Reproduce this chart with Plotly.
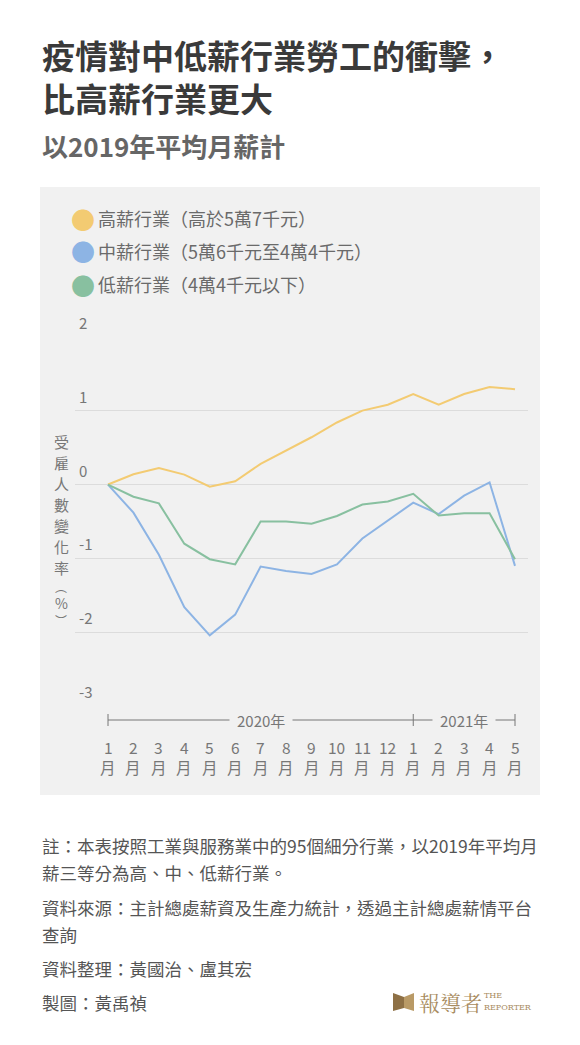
import plotly.graph_objects as go

# ---- data ----
month_nums = ["1", "2", "3", "4", "5", "6", "7", "8", "9", "10", "11", "12", "1", "2", "3", "4", "5"]
month_unit = "月"
high = [0.0, 0.14, 0.225, 0.135, -0.03, 0.045, 0.28, 0.46, 0.64, 0.84, 1.0, 1.08,
        1.225, 1.08, 1.225, 1.32, 1.29]
mid = [0.0, -0.38, -0.95, -1.66, -2.04, -1.76, -1.11, -1.17, -1.21, -1.08, -0.73, -0.49,
       -0.245, -0.40, -0.15, 0.03, -1.10]
low = [0.0, -0.165, -0.255, -0.80, -1.01, -1.08, -0.50, -0.50, -0.53, -0.425, -0.27, -0.23,
       -0.125, -0.42, -0.39, -0.39, -1.01]
series_names = ["高薪行業（高於5萬7千元）", "中薪行業（5萬6千元至4萬4千元）", "低薪行業（4萬4千元以下）"]
y_ticks = [2, 1, 0, -1, -2, -3]
years = ["2020年", "2021年"]

colors = ["#F3CB72", "#8DB4E4", "#88C0A0"]
FONT = "Noto Sans CJK TC"

OFF = 8  # page body margin
W, H = 580 - OFF, 1045 - OFF
L, R, T, B = 75, 528, 336, 707  # plot area in reference pixels


def px(x):
    return (x - L) / (R - L)


def py(y):
    return (B - y) / (B - T)


xs = list(range(len(month_nums)))
fig = go.Figure()
for vals, name, c in zip([high, mid, low], series_names, colors):
    fig.add_trace(go.Scatter(x=xs, y=vals, mode="lines", name=name,
                             line=dict(color=c, width=2), showlegend=False))

shapes = []
# gray panel
shapes.append(dict(type="rect", xref="paper", yref="paper", x0=px(40), x1=px(540),
                   y0=py(795), y1=py(187), fillcolor="#F1F1F1", line=dict(width=0), layer="below"))
# year bracket
yb = py(720)
shapes.append(dict(type="line", xref="x", yref="paper", x0=0, x1=16, y0=yb, y1=yb,
                   line=dict(color="#777777", width=1)))
for xv in [0, 12, 16]:
    shapes.append(dict(type="line", xref="x", yref="paper", x0=xv, x1=xv, y0=py(726), y1=py(714),
                       line=dict(color="#777777", width=1)))


# logo icon
def path(pts):
    return "M " + " L ".join(f"{px(a)},{py(b)}" for a, b in pts) + " Z"


shapes.append(dict(type="path", xref="paper", yref="paper",
                   path=path([(393, 993), (404, 997), (404, 1008), (393, 1011)]),
                   fillcolor="#8E7045", line=dict(width=0)))
shapes.append(dict(type="path", xref="paper", yref="paper",
                   path=path([(404, 997), (414, 993), (414, 1011), (404, 1008)]),
                   fillcolor="#B99A66", line=dict(width=0)))

ann = []


def text(x, y, s, size, color, bold=False, xanchor="left", yanchor="middle", family=FONT, **kw):
    ann.append(dict(xref="paper", yref="paper", x=px(x), y=py(y), text=(f"<b>{s}</b>" if bold else s),
                    showarrow=False, xanchor=xanchor, yanchor=yanchor,
                    font=dict(family=family, size=size, color=color), **kw))


# titles
text(40, 76, "疫情對中低薪行業勞工的衝擊，<br>比高薪行業更大", 33, "#3A3A3A", bold=True, align="left")
text(40, 145, "以2019年平均月薪計", 26, "#666666", bold=True)

# legend
for i, (name, c) in enumerate(zip(series_names, colors)):
    yy = 218 + 33 * i
    text(83, yy, "●", 24, c, xanchor="center")
    text(96, yy, name, 18, "#6A6A6A")

# y tick labels
for v in y_ticks:
    ann.append(dict(xref="paper", yref="y", x=px(77), y=v, text=str(v), showarrow=False,
                    xanchor="left", yanchor="bottom", yshift=2,
                    font=dict(family=FONT, size=15, color="#777777")))

# x tick labels (number above, 月 below)
for xv, m in zip(xs, month_nums):
    for s, yy in [(m, 747), (month_unit, 767)]:
        ann.append(dict(xref="x", yref="paper", x=xv, y=py(yy), text=s, showarrow=False,
                        xanchor="center", yanchor="middle",
                        font=dict(family=FONT, size=15.5, color="#777777")))

# y axis title (vertical, one glyph per line)
ytitle = list("受雇人數變化率") + ["︵", "%", "︶"]
ypos = [441, 462, 483, 504, 525, 546, 567, 586, 603, 620]
ysize = [15, 15, 15, 15, 15, 15, 15, 12, 14, 12]
for ch, yy, sz in zip(ytitle, ypos, ysize):
    text(61, yy, ch, sz, "#777777", xanchor="center")

# year labels on bracket
for xv, s in zip([6, 14], years):
    ann.append(dict(xref="x", yref="paper", x=xv, y=yb, text=s, showarrow=False,
                    xanchor="center", yanchor="middle", bgcolor="#F1F1F1", borderpad=7,
                    font=dict(family=FONT, size=15, color="#777777")))

# footer
fc = "#555555"
fs = 17.5
text(40, 845, "註：本表按照工業與服務業中的95個細分行業，以2019年平均月", fs, fc)
text(40, 872, "薪三等分為高、中、低薪行業。", fs, fc)
text(40, 907, "資料來源：主計總處薪資及生產力統計，透過主計總處薪情平台", fs, fc)
text(40, 934, "查詢", fs, fc)
text(40, 968, "資料整理：黃國治、盧其宏", fs, fc)
text(40, 1002, "製圖：黃禹禎", fs, fc)

# logo text
text(417, 1002, "報導者", 21, "#A88B5E", family="Noto Serif CJK TC, serif")
text(482, 995, "THE", 8, "#A88B5E", family="DejaVu Serif, serif")
text(482, 1007, "REPORTER", 8, "#A88B5E", family="DejaVu Serif, serif")

fig.update_layout(
    width=W, height=H,
    margin=dict(l=L - OFF, r=580 - R, t=T - OFF, b=1045 - B, pad=0),
    paper_bgcolor="#FFFFFF", plot_bgcolor="#F1F1F1",
    shapes=shapes, annotations=ann,
    showlegend=False,
    font=dict(family=FONT),
)
x_per = (515 - 108) / 16
fig.update_xaxes(range=[-(108 - L) / x_per, 16 + (R - 515) / x_per], showgrid=False, zeroline=False,
                 showline=False, showticklabels=False, ticks="", fixedrange=True)
fig.update_yaxes(range=[-3.01, 2.01], tickvals=y_ticks, showticklabels=False, showgrid=True,
                 gridcolor="#DCDCDC", gridwidth=1, zeroline=False, showline=False, fixedrange=True)

fig.write_html("out.html", config={"displayModeBar": False})
